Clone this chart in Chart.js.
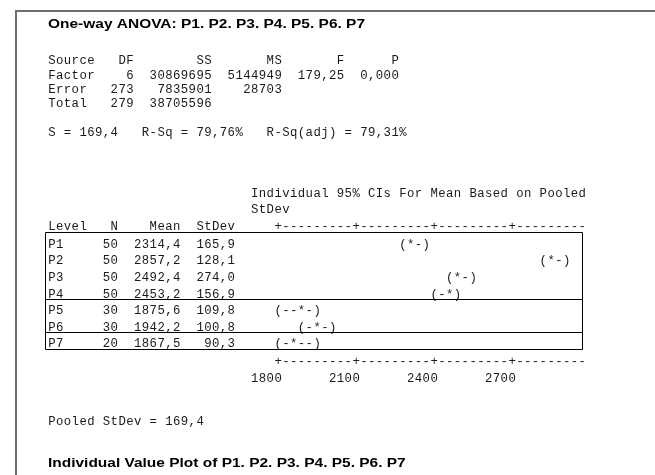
<!DOCTYPE html>
<html>
<head>
<meta charset="utf-8">
<script src="https://cdn.jsdelivr.net/npm/chart.js@4.4.1/dist/chart.umd.min.js"></script>
<style>
  html, body { margin: 0; padding: 0; background: #fff; }
  #wrap { width: 655px; height: 475px; }
</style>
</head>
<body>
<div id="wrap"><canvas id="chart" width="655" height="475"></canvas></div>
<script>
// ANOVA table
const sources = ['Factor', 'Error', 'Total'];
const dfs = [6, 273, 279];
const sumSq = [30869695, 7835901, 38705596];
const meanSq = [5144949, 28703];
const fValue = '179,25';
const pValue = '0,000';
const sValue = 169.4;
const rSq = 79.76;
const rSqAdj = 79.31;

// levels
const levels = ['P1', 'P2', 'P3', 'P4', 'P5', 'P6', 'P7'];
const counts = [50, 50, 50, 50, 30, 30, 20];
const means = [2314.4, 2857.2, 2492.4, 2453.2, 1875.6, 1942.2, 1867.5];
const stdevs = [165.9, 128.1, 274.0, 156.9, 109.8, 100.8, 90.3];
// CI ends
const ciLow = [2267, 2810, 2446, 2406, 1814, 1881, 1793];
const ciHigh = [2362, 2904, 2540, 2500, 1936, 2003, 1942];
const pooledStDev = 169.4;
const xTicks = [1800, 2100, 2400, 2700];

// character grid of the session window
const W = 655, H = 475;
const X0 = 48, CW = 7.8;
const TICK_COL = 29, PER_COL = 30, AXIS_END_COL = 68;
const ROW_TOP = 243.8, ROW_STEP = 16.58;

const xMin = xTicks[0] - PER_COL * (TICK_COL + 0.5 + X0 / CW);
const xMax = xTicks[0] + PER_COL * ((W - X0) / CW - TICK_COL - 0.5);

const fmt1 = v => v.toFixed(1).replace('.', ',');
const fmt2 = v => v.toFixed(2).replace('.', ',');

const monoFamily = '"Courier New", Courier, "Nimbus Mono PS", "Nimbus Mono L", FreeMono, "Liberation Mono", monospace';
const sansFamily = 'Arial, "Liberation Sans", Helvetica, sans-serif';

function sizeForCap(ctx, font, cap) {
    ctx.font = font.replace('SZ', '20px');
    const a = ctx.measureText('H').actualBoundingBoxAscent || 14;
    return (20 * cap / a).toFixed(2) + 'px';
}

// writes text on the grid, one cell per char
function put(ctx, text, col, y) {
    for (let i = 0; i < text.length; i++) {
        if (text[i] !== ' ') ctx.fillText(text[i], X0 + (col + i) * CW + CW / 2, y);
    }
}
function putR(ctx, text, endCol, y) {
    put(ctx, String(text), endCol - String(text).length + 1, y);
}
const colOf = px => Math.round((px - X0) / CW - 0.5);

function hLine(ctx, x1, x2, y) {
    ctx.beginPath();
    ctx.moveTo(x1, Math.round(y) + 0.5);
    ctx.lineTo(x2, Math.round(y) + 0.5);
    ctx.stroke();
}

const sessionText = {
    id: 'sessionText',
    afterDraw(chart) {
        const ctx = chart.ctx;
        const xs = chart.scales.x;
        const ys = chart.scales.y;
        ctx.save();

        // window frame
        ctx.fillStyle = '#6e6e6e';
        ctx.fillRect(15, 10, W - 15, 2);
        ctx.fillRect(15, 10, 2, H - 10);

        // bold titles, stretched like the source
        ctx.fillStyle = '#000';
        ctx.textBaseline = 'alphabetic';
        ctx.textAlign = 'left';
        const tFont = 'bold ' + sizeForCap(ctx, 'bold SZ ' + sansFamily, 9.3) + ' ' + sansFamily;
        ctx.font = tFont;
        const title1 = 'One-way ANOVA: ' + levels.join('. ');
        const title2 = 'Individual Value Plot of ' + levels.join('. ');
        const k = 317 / ctx.measureText(title1).width;
        [[title1, 28.3], [title2, 466.5]].forEach(([t, y]) => {
            ctx.save();
            ctx.translate(48, y);
            ctx.scale(k, 1);
            ctx.fillText(t, 0, 0);
            ctx.restore();
        });

        // monospace session text
        ctx.font = sizeForCap(ctx, 'SZ ' + monoFamily, 8) + ' ' + monoFamily;
        ctx.textAlign = 'center';
        ctx.fillStyle = '#1a1a1a';

        const hdr = [64.3, 78.7, 93, 107.4];
        put(ctx, 'Source', 0, hdr[0]);
        putR(ctx, 'DF', 10, hdr[0]);
        putR(ctx, 'SS', 20, hdr[0]);
        putR(ctx, 'MS', 29, hdr[0]);
        putR(ctx, 'F', 37, hdr[0]);
        putR(ctx, 'P', 44, hdr[0]);
        sources.forEach((s, i) => {
            const y = hdr[i + 1];
            put(ctx, s, 0, y);
            putR(ctx, dfs[i], 10, y);
            putR(ctx, sumSq[i], 20, y);
            if (meanSq[i] !== undefined) putR(ctx, meanSq[i], 29, y);
        });
        putR(ctx, fValue, 37, hdr[1]);
        putR(ctx, pValue, 44, hdr[1]);

        put(ctx, 'S = ' + fmt1(sValue) + '   R-Sq = ' + fmt2(rSq) + '%   R-Sq(adj) = ' + fmt2(rSqAdj) + '%', 0, 135.7);

        put(ctx, 'Individual 95% CIs For Mean Based on Pooled', 26, 197.3);
        put(ctx, 'StDev', 26, 213.3);

        // axis strings built from the x scale
        const tickCols = xTicks.map(t => colOf(xs.getPixelForValue(t)));
        let axis = '';
        for (let c = tickCols[0]; c <= AXIS_END_COL; c++) axis += tickCols.includes(c) ? '+' : '-';

        const headY = 230.3;
        put(ctx, 'Level', 0, headY);
        putR(ctx, 'N', 8, headY);
        putR(ctx, 'Mean', 16, headY);
        putR(ctx, 'StDev', 23, headY);
        put(ctx, axis, tickCols[0], headY);

        const meta = chart.getDatasetMeta(0);
        meta.data.forEach((pt, i) => {
            const y = pt.y + 4;
            put(ctx, levels[i], 0, y);
            putR(ctx, counts[i], 8, y);
            putR(ctx, fmt1(means[i]), 16, y);
            putR(ctx, fmt1(stdevs[i]), 23, y);
            const c0 = colOf(xs.getPixelForValue(ciLow[i]));
            const c1 = colOf(xs.getPixelForValue(ciHigh[i]));
            const cm = colOf(pt.x);
            let g = '';
            for (let c = c0; c <= c1; c++) g += c === c0 ? '(' : c === c1 ? ')' : c === cm ? '*' : '-';
            put(ctx, g, c0, y);
        });

        put(ctx, axis, tickCols[0], 364.6);
        xTicks.forEach((t, i) => putR(ctx, String(t), tickCols[i], 381.5));

        put(ctx, 'Pooled StDev = ' + fmt1(pooledStDev), 0, 425);

        // box round the level rows
        ctx.strokeStyle = '#000';
        ctx.lineWidth = 1;
        const bx0 = 45.5, bx1 = 582.5;
        const yTop = ys.getPixelForValue(0) - 12.3;
        const yBot = ys.getPixelForValue(levels.length - 1) + 5.8;
        hLine(ctx, bx0, bx1, yTop);
        for (let i = 0; i < levels.length - 1; i++) {
            if (counts[i] !== counts[i + 1]) hLine(ctx, bx0, bx1, ys.getPixelForValue(i) + 5.6);
        }
        hLine(ctx, bx0, bx1, yBot);
        ctx.beginPath();
        ctx.moveTo(bx0, Math.round(yTop) + 0.5);
        ctx.lineTo(bx0, Math.round(yBot) + 0.5);
        ctx.moveTo(bx1, Math.round(yTop) + 0.5);
        ctx.lineTo(bx1, Math.round(yBot) + 0.5);
        ctx.stroke();

        ctx.restore();
    }
};

new Chart(document.getElementById('chart'), {
    type: 'scatter',
    data: {
        datasets: [{
            label: 'Mean',
            data: means.map((m, i) => ({ x: m, y: i })),
            pointRadius: 0,
            pointHoverRadius: 0
        }]
    },
    options: {
        responsive: false,
        animation: false,
        devicePixelRatio: 1,
        layout: { padding: 0 },
        events: [],
        scales: {
            x: { type: 'linear', display: false, min: xMin, max: xMax },
            y: { type: 'linear', display: false, reverse: true,
                 min: -ROW_TOP / ROW_STEP, max: (H - ROW_TOP) / ROW_STEP }
        },
        plugins: {
            legend: { display: false },
            tooltip: { enabled: false }
        }
    },
    plugins: [sessionText]
});
</script>
</body>
</html>
